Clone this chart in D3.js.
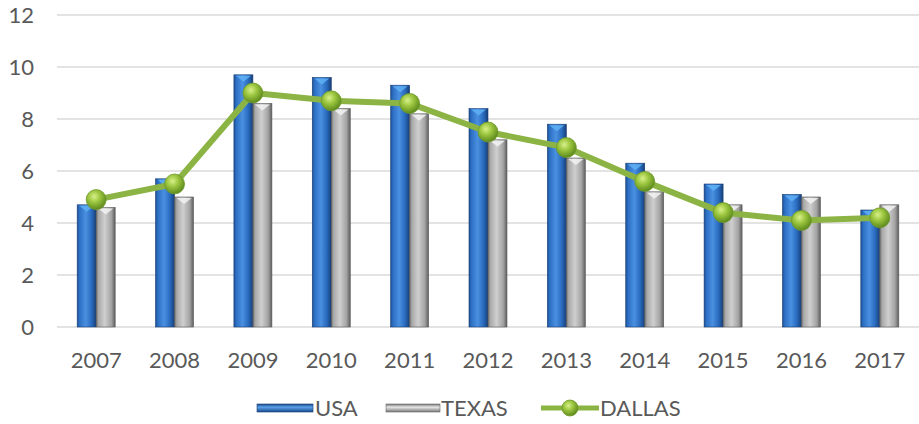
<!DOCTYPE html>
<html>
<head>
<meta charset="utf-8">
<script src="https://cdn.jsdelivr.net/npm/d3@7"></script>
<style>
	body { margin: 0; background: #fff; }
	svg { display: block; }
	text { font-family: Lato, "Open Sans", sans-serif; fill: #595959; }
</style>
</head>
<body>
<script>
"use strict";

// chart data
let years  = ["2007", "2008", "2009", "2010", "2011", "2012", "2013", "2014", "2015", "2016", "2017"];
let usa    = [4.7, 5.7, 9.7, 9.6, 9.3, 8.4, 7.8, 6.3, 5.5, 5.1, 4.5];
let texas  = [4.6, 5.0, 8.6, 8.4, 8.2, 7.2, 6.5, 5.2, 4.7, 5.0, 4.7];
let dallas = [4.9, 5.5, 9.0, 8.7, 8.6, 7.5, 6.9, 5.6, 4.4, 4.1, 4.2];
let yTicks = [0, 2, 4, 6, 8, 10, 12];
let seriesNames = ["USA", "TEXAS", "DALLAS"];

function draw () {

	let width = 919,
		height = 424;

	let plot = {left: 57, right: 919, top: 15, bottom: 327};

	let svg = d3.select("body")
		.append("svg")
			.attr("width", width)
			.attr("height", height);

	let defs = svg.append("defs");

	// bar gradients (bevelled look)
	function barGradient (id, stops) {
		let g = defs.append("linearGradient")
			.attr("id", id)
			.attr("x1", "0").attr("x2", "1")
			.attr("y1", "0").attr("y2", "0");
		stops.forEach(function (s) {
			g.append("stop").attr("offset", s[0]).attr("stop-color", s[1]);
		});
	}

	barGradient("gBlue", [
		[0, "#1d4f91"], [0.12, "#2c6fc4"], [0.45, "#4a90e0"], [0.75, "#2a6cc0"], [1, "#173f78"]
	]);
	barGradient("gGray", [
		[0, "#6f6f6f"], [0.12, "#a9a9a9"], [0.45, "#cfcfcf"], [0.8, "#a3a3a3"], [1, "#5e5e5e"]
	]);

	let legBlue = defs.append("linearGradient")
		.attr("id", "gBlueLeg").attr("x1", 0).attr("x2", 0).attr("y1", 0).attr("y2", 1);
	[[0, "#1b4a8a"], [0.4, "#5aa0ea"], [1, "#1b4a8a"]].forEach(function (s) {
		legBlue.append("stop").attr("offset", s[0]).attr("stop-color", s[1]);
	});
	let legGray = defs.append("linearGradient")
		.attr("id", "gGrayLeg").attr("x1", 0).attr("x2", 0).attr("y1", 0).attr("y2", 1);
	[[0, "#777"], [0.4, "#e6e6e6"], [1, "#777"]].forEach(function (s) {
		legGray.append("stop").attr("offset", s[0]).attr("stop-color", s[1]);
	});

	let ball = defs.append("radialGradient")
		.attr("id", "gBall")
		.attr("cx", "0.4").attr("cy", "0.35").attr("r", "0.65");
	[[0, "#d8f08a"], [0.45, "#9cc63f"], [1, "#5e8a1e"]].forEach(function (s) {
		ball.append("stop").attr("offset", s[0]).attr("stop-color", s[1]);
	});

	let xScale = d3.scaleBand()
		.domain(years)
		.range([plot.left, plot.right]);

	let yScale = d3.scaleLinear()
		.domain([0, 12])
		.range([plot.bottom, plot.top]);

	// gridlines
	svg.append("g")
		.selectAll("line")
		.data(yTicks)
		.enter()
		.append("line")
			.attr("x1", plot.left)
			.attr("x2", plot.right)
			.attr("y1", function (d) { return yScale(d); })
			.attr("y2", function (d) { return yScale(d); })
			.attr("stroke", "#e3e3e3")
			.attr("stroke-width", 2);

	// y axis
	let yAxis = svg.append("g")
		.attr("transform", "translate(" + (plot.left - 23) + ",0)")
		.call(d3.axisLeft(yScale).tickValues(yTicks).tickSize(0).tickPadding(0));
	yAxis.select(".domain").remove();
	yAxis.selectAll("text")
		.style("font-size", "22px")
		.attr("dy", "0.35em");

	// x axis
	let xAxis = svg.append("g")
		.attr("transform", "translate(0," + plot.bottom + ")")
		.call(d3.axisBottom(xScale).tickSize(0).tickPadding(25));
	xAxis.select(".domain").remove();
	xAxis.selectAll("text")
		.style("font-size", "22px");

	let barW = 19;

	let bars = [
		{values: usa, fill: "url(#gBlue)", cap: "#5fb0f5", edge: "#163e75", off: -barW},
		{values: texas, fill: "url(#gGray)", cap: "#f2f2f2", edge: "#5a5a5a", off: 0}
	];

	bars.forEach(function (s) {
		let g = svg.append("g");

		let cells = g.selectAll("g")
			.data(years)
			.enter()
			.append("g");

		cells.append("rect")
			.attr("x", function (d) { return xScale(d) + xScale.bandwidth() / 2 + s.off; })
			.attr("y", function (d, i) { return yScale(s.values[i]); })
			.attr("width", barW)
			.attr("height", function (d, i) { return yScale(0) - yScale(s.values[i]); })
			.attr("fill", s.fill)
			.attr("stroke", s.edge)
			.attr("stroke-width", 0.6);

		// little bevel cap on top of the bar
		cells.append("path")
			.attr("d", function (d, i) {
				let x0 = xScale(d) + xScale.bandwidth() / 2 + s.off,
					y0 = yScale(s.values[i]);
				return "M" + (x0 + 2) + "," + (y0 + 1) +
					"L" + (x0 + barW - 2) + "," + (y0 + 1) +
					"L" + (x0 + barW / 2) + "," + (y0 + 7) + "Z";
			})
			.attr("fill", s.cap)
			.attr("opacity", 0.85);
	});

	// dallas line
	let line = d3.line()
		.x(function (d, i) { return xScale(years[i]) + xScale.bandwidth() / 2; })
		.y(function (d) { return yScale(d); });

	svg.append("path")
		.datum(dallas)
		.attr("d", line)
		.attr("fill", "none")
		.attr("stroke", "#8cb444")
		.attr("stroke-width", 6)
		.attr("stroke-linejoin", "round");

	svg.append("g")
		.selectAll("circle")
		.data(dallas)
		.enter()
		.append("circle")
			.attr("cx", function (d, i) { return xScale(years[i]) + xScale.bandwidth() / 2; })
			.attr("cy", function (d) { return yScale(d); })
			.attr("r", 10)
			.attr("fill", "url(#gBall)")
			.attr("stroke", "#6e9a2a")
			.attr("stroke-width", 0.8);

	// legend
	let legend = svg.append("g").attr("transform", "translate(0,408)");

	legend.append("rect")
		.attr("x", 257).attr("y", -4).attr("width", 56).attr("height", 8)
		.attr("fill", "url(#gBlueLeg)").attr("stroke", "#173f78").attr("stroke-width", 0.6);
	legend.append("text")
		.attr("x", 315).attr("dy", "0.36em")
		.style("font-size", "22px")
		.text(seriesNames[0]);

	legend.append("rect")
		.attr("x", 386).attr("y", -4).attr("width", 54).attr("height", 8)
		.attr("fill", "url(#gGrayLeg)").attr("stroke", "#666").attr("stroke-width", 0.6);
	legend.append("text")
		.attr("x", 441).attr("dy", "0.36em")
		.style("font-size", "22px")
		.text(seriesNames[1]);

	legend.append("line")
		.attr("x1", 541).attr("x2", 599).attr("y1", 0).attr("y2", 0)
		.attr("stroke", "#8cb444").attr("stroke-width", 5);
	legend.append("circle")
		.attr("cx", 570).attr("cy", 0).attr("r", 8)
		.attr("fill", "url(#gBall)").attr("stroke", "#6e9a2a").attr("stroke-width", 0.8);
	legend.append("text")
		.attr("x", 600).attr("dy", "0.36em")
		.style("font-size", "22px")
		.text(seriesNames[2]);
}

draw();
</script>
</body>
</html>
